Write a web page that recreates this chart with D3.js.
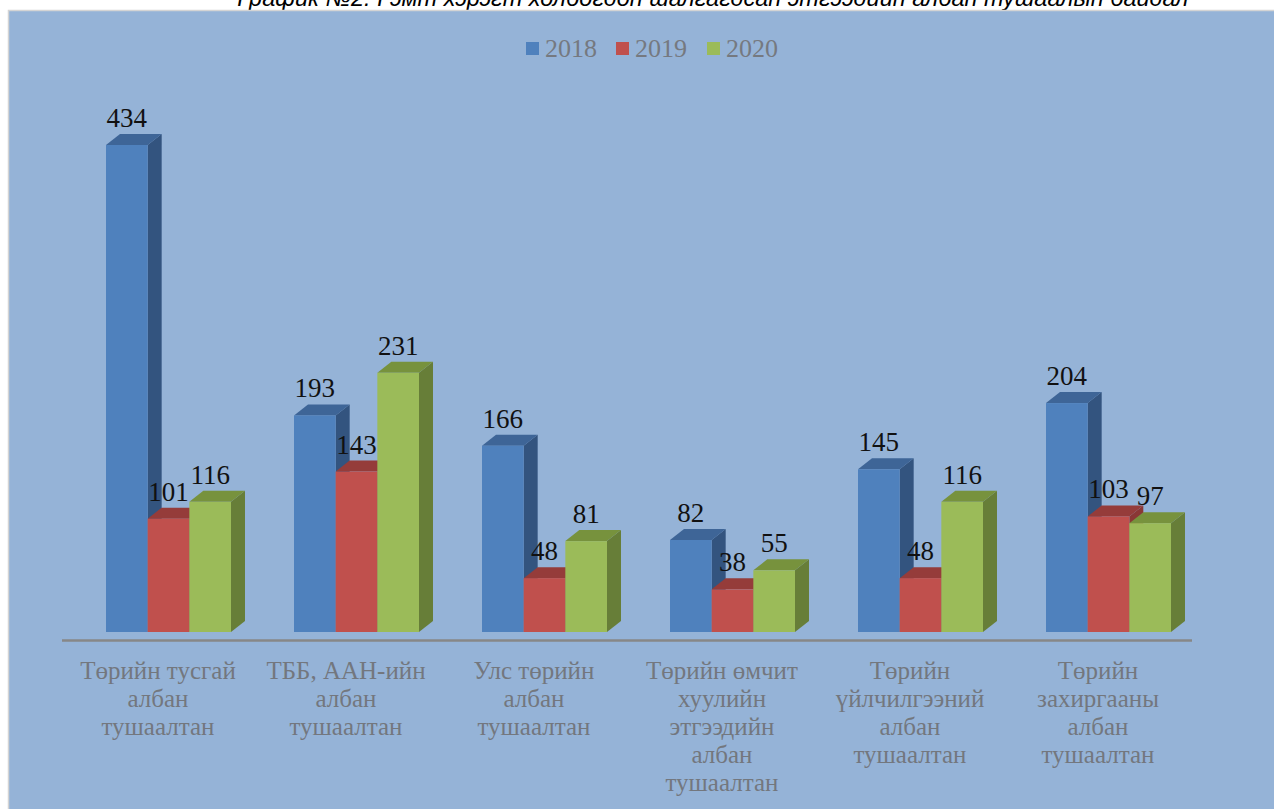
<!DOCTYPE html>
<html>
<head>
<meta charset="utf-8">
<script src="https://cdn.jsdelivr.net/npm/d3@7"></script>
<style>
	body { margin: 0; background: #fff; }
	svg { display: block; }
</style>
</head>
<body>
<svg id="viz"></svg>
<script>
// values

var categories = [
	['Төрийн тусгай', 'албан', 'тушаалтан'],
	['ТББ, ААН-ийн', 'албан', 'тушаалтан'],
	['Улс төрийн', 'албан', 'тушаалтан'],
	['Төрийн өмчит', 'хуулийн', 'этгээдийн', 'албан', 'тушаалтан'],
	['Төрийн', 'үйлчилгээний', 'албан', 'тушаалтан'],
	['Төрийн', 'захиргааны', 'албан', 'тушаалтан']
]

var years = ['2018', '2019', '2020']

var v2018 = [434, 193, 166, 82, 145, 204]
var v2019 = [101, 143, 48, 38, 48, 103]
var v2020 = [116, 231, 81, 55, 116, 97]

var seriesValues = [v2018, v2019, v2020]

var title = 'График №2: Гэмт хэрэгт холбогдон шалгагдсан этгээдийн албан тушаалын байдал'

// front / side / top shades for each year
var colors = {
	'2018': ['#4f81bd', '#33547f', '#3e6597'],
	'2019': ['#c0504d', '#8a3735', '#953c3a'],
	'2020': ['#9bbb59', '#677e38', '#77923d']
}

var width = 1274
var height = 809
var depthX = 14
var depthY = 11

var svg = d3.select("#viz")
	.attr("width", width)
	.attr("height", height)

// title, mostly cut off at the top of the page (as in the source)
svg.append("text")
	.attr("x", 713)
	.attr("y", 6)
	.attr("text-anchor", "middle")
	.style("font-family", "'Liberation Sans', Arial, sans-serif")
	.style("font-style", "italic")
	.style("font-size", "23.5px")
	.style("fill", "#000")
	.text(title)

svg.append("rect")
	.attr("x", 8.5)
	.attr("y", 10.5)
	.attr("width", width)
	.attr("height", height)
	.style("fill", "#95b3d7")
	.style("stroke", "#d4d4d4")
	.style("stroke-width", 1.5)

var idx = d3.range(categories.length)

var x0 = d3.scaleBand().domain(idx).range([62, 1190])
var x1 = d3.scaleBand().domain(years).range([0, 125])
var y = d3.scaleLinear().domain([0, 434]).range([632, 145])

var barOffset = 44

// axis line
svg.append("line")
	.attr("x1", x0.range()[0])
	.attr("x2", x0.range()[1] + 2)
	.attr("y1", 640.5)
	.attr("y2", 640.5)
	.style("stroke", "#878787")
	.style("stroke-width", 2.5)

// build the bar list, group by group, left to right
var bars = []
for (let c = 0; c < categories.length; c++) {
	for (let s = 0; s < years.length; s++) {
		bars.push({
			cat: c,
			year: years[s],
			value: seriesValues[s][c]
		})
	}
}

var bx = d => x0(d.cat) + barOffset + x1(d.year)
var bw = x1.bandwidth()

var g = svg.selectAll("g.bar")
	.data(bars)
	.enter()
	.append("g")
	.attr("class", "bar")

// side face
g.append("path")
	.attr("d", function(d) {
		let xr = bx(d) + bw, yt = y(d.value), yb = y(0)
		return "M" + xr + "," + yt + "L" + (xr + depthX) + "," + (yt - depthY) +
			"L" + (xr + depthX) + "," + (yb - depthY) + "L" + xr + "," + yb + "Z"
	})
	.style("fill", d => colors[d.year][1])

// top face
g.append("path")
	.attr("d", function(d) {
		let xl = bx(d), yt = y(d.value)
		return "M" + xl + "," + yt + "L" + (xl + depthX) + "," + (yt - depthY) +
			"L" + (xl + bw + depthX) + "," + (yt - depthY) + "L" + (xl + bw) + "," + yt + "Z"
	})
	.style("fill", d => colors[d.year][2])

// front face
g.append("rect")
	.attr("x", bx)
	.attr("y", d => y(d.value))
	.attr("width", bw)
	.attr("height", d => y(0) - y(d.value))
	.style("fill", d => colors[d.year][0])

// value labels on top of everything
svg.selectAll("text.value")
	.data(bars)
	.enter()
	.append("text")
	.attr("class", "value")
	.attr("x", d => bx(d) + bw / 2)
	.attr("y", d => y(d.value) - 18)
	.attr("text-anchor", "middle")
	.style("font-family", "'Liberation Serif', 'DejaVu Serif', serif")
	.style("font-size", "27px")
	.style("fill", "#111")
	.text(d => d.value)

// category labels
var labels = svg.selectAll("text.cat")
	.data(categories)
	.enter()
	.append("text")
	.attr("class", "cat")
	.attr("text-anchor", "middle")
	.style("font-family", "'Liberation Serif', 'DejaVu Serif', serif")
	.style("font-size", "25px")
	.style("fill", "#73777e")

labels.selectAll("tspan")
	.data((d, i) => d.map(line => ({ line: line, cat: i })))
	.enter()
	.append("tspan")
	.attr("x", d => x0(d.cat) + x0.bandwidth() / 2 + 2)
	.attr("y", (d, i) => 679 + i * 28)
	.text(d => d.line)

// legend
var legendX = [526, 616, 707]
var legend = svg.selectAll("g.legend")
	.data(years)
	.enter()
	.append("g")
	.attr("class", "legend")
	.attr("transform", (d, i) => "translate(" + legendX[i] + ",42)")

legend.append("rect")
	.attr("width", 13)
	.attr("height", 13)
	.style("fill", d => colors[d][0])

legend.append("text")
	.attr("x", 19)
	.attr("y", 15)
	.style("font-family", "'Liberation Serif', 'DejaVu Serif', serif")
	.style("font-size", "26px")
	.style("fill", "#757980")
	.text(d => d)
</script>
</body>
</html>
